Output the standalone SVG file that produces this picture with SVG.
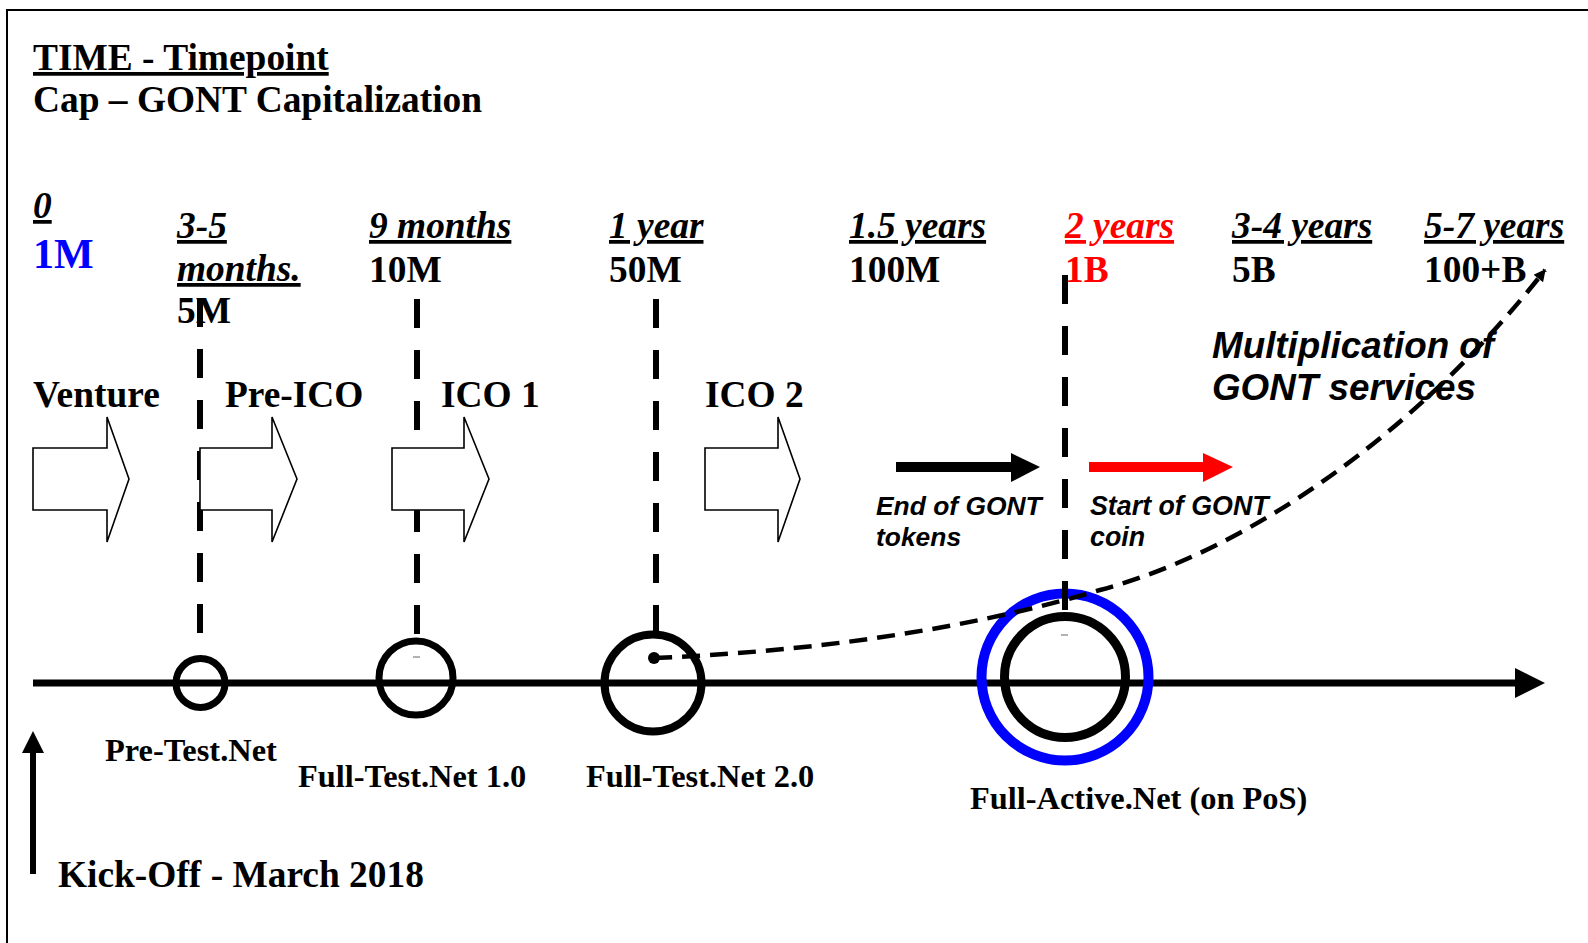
<svg xmlns="http://www.w3.org/2000/svg" width="1588" height="943" viewBox="0 0 1588 943">
<style>
.t{font-family:"Liberation Serif","Times New Roman",serif;font-weight:bold;font-size:37.4px;fill:#000}
.i{font-style:italic}
.u{text-decoration:underline;text-decoration-thickness:3px}
.lbl{font-size:32.4px}
.red{fill:#ff0000}
.s{font-family:"Liberation Sans",Arial,sans-serif;font-weight:bold;font-style:italic;fill:#000}
.blk{fill:#fff;stroke:#000;stroke-width:1.6}
.dash{stroke:#000;stroke-width:6;stroke-dasharray:29 22;fill:none}
.ring{fill:none;stroke:#000}
.mark{stroke:#999;stroke-width:1.5}
</style>
<defs>
<marker id="ah" viewBox="0 0 10 10" refX="9" refY="5" markerWidth="14" markerHeight="12" markerUnits="userSpaceOnUse" orient="auto">
<path d="M0,0 L10,5 L0,10 z" fill="#000"/>
</marker>
</defs>
<rect x="0" y="0" width="1588" height="943" fill="#fff"/>
<path d="M7,943 V10 H1588" fill="none" stroke="#000" stroke-width="2"/>

<g id="header">
<text x="33" y="70" class="t u">TIME - Timepoint</text>
<text x="33" y="112" class="t">Cap – GONT Capitalization</text>
</g>

<g id="timeline">
<line x1="33" y1="683" x2="1516" y2="683" stroke="#000" stroke-width="7"/>
<polygon points="1515,668 1545,683 1515,698" fill="#000"/>
</g>

<g id="kickoff">
<line x1="33" y1="874" x2="33" y2="750" stroke="#000" stroke-width="6"/>
<polygon points="22,753 33,731 44,753" fill="#000"/>
<text x="58" y="887" class="t">Kick-Off - March 2018</text>
</g>

<g id="tp0">
<text x="33" y="218" class="t i u">0</text>
<text x="33" y="268" class="t" style="font-size:42px;fill:#0000ff">1M</text>
</g>

<g id="circles">
<g id="pretestnet"><circle cx="200.5" cy="683" r="24.5" class="ring" stroke-width="7"/></g>
<g id="fulltest1"><circle cx="416" cy="678" r="37" class="ring" stroke-width="7"/><line x1="413" y1="657" x2="420" y2="657" class="mark"/></g>
<g id="fulltest2"><circle cx="653" cy="683" r="48.5" class="ring" stroke-width="8"/><circle cx="654" cy="658" r="6" fill="#000"/></g>
<g id="fullactive"><circle cx="1065" cy="677" r="83.5" fill="none" stroke="#0000ff" stroke-width="10"/><circle cx="1065" cy="677" r="60.5" class="ring" stroke-width="9"/><line x1="1061" y1="635" x2="1068" y2="635" class="mark"/></g>
</g>

<g id="connectors">
<line x1="200" y1="298" x2="200" y2="655" class="dash"/>
<line x1="417" y1="299" x2="417" y2="638" class="dash"/>
<line x1="656" y1="299" x2="656" y2="631" class="dash"/>
<line x1="1065" y1="275" x2="1065" y2="612" class="dash"/>
</g>

<g id="phases">
<g id="venture"><polygon points="33,448 107,448 107,417 129,479 107,542 107,510 33,510" class="blk"/><text x="33" y="407" class="t">Venture</text></g>
<g id="preico"><polygon points="200,448 272,448 272,417 297,479 272,542 272,510 200,510" class="blk"/><text x="225" y="407" class="t">Pre-ICO</text></g>
<g id="ico1"><polygon points="392,448 464,448 464,417 489,479 464,542 464,510 392,510" class="blk"/><text x="441" y="407" class="t">ICO 1</text></g>
<g id="ico2"><polygon points="705,448 778,448 778,417 800,479 778,542 778,510 705,510" class="blk"/><text x="705" y="407" class="t">ICO 2</text></g>
</g>

<g id="curve">
<path d="M654,658 C850,650 1000,620 1100,590 C1250,550 1420,430 1545,270" fill="none" stroke="#000" stroke-width="4.5" stroke-dasharray="18 10" marker-end="url(#ah)"/>
</g>

<g id="tokens">
<line x1="896" y1="467" x2="1012" y2="467" stroke="#000" stroke-width="10"/>
<polygon points="1011,453 1040,467 1011,482" fill="#000"/>
<text x="876" y="515" class="s" font-size="26.4">End of GONT</text>
<text x="876" y="546" class="s" font-size="26.4">tokens</text>
</g>
<g id="coin">
<line x1="1089" y1="467" x2="1204" y2="467" stroke="#ff0000" stroke-width="10"/>
<polygon points="1203,453 1233,467 1203,482" fill="#ff0000"/>
<text x="1090" y="515" class="s" font-size="26.8">Start of GONT</text>
<text x="1090" y="546" class="s" font-size="26.8">coin</text>
</g>
<g id="multiplication">
<text x="1212" y="358" class="s" font-size="36.8">Multiplication of</text>
<text x="1212" y="400" class="s" font-size="36.8">GONT services</text>
</g>

<g id="tp35">
<text x="177" y="238" class="t i u">3-5</text>
<text x="177" y="281" class="t i u">months.</text>
<text x="177" y="323" class="t">5M</text>
</g>
<g id="tp9"><text x="369" y="238" class="t i u">9 months</text><text x="369" y="282" class="t">10M</text></g>
<g id="tp1y"><text x="609" y="238" class="t i u">1 year</text><text x="609" y="282" class="t">50M</text></g>
<g id="tp15"><text x="849" y="238" class="t i u">1.5 years</text><text x="849" y="282" class="t">100M</text></g>
<g id="tp2"><text x="1065" y="238" class="t i u red">2 years</text><text x="1065" y="282" class="t red">1B</text></g>
<g id="tp34"><text x="1232" y="238" class="t i u">3-4 years</text><text x="1232" y="282" class="t">5B</text></g>
<g id="tp57"><text x="1424" y="238" class="t i u">5-7 years</text><text x="1424" y="282" class="t">100+B</text></g>

<g id="labels">
<text x="105" y="761" class="t lbl">Pre-Test.Net</text>
<text x="298" y="787" class="t lbl">Full-Test.Net 1.0</text>
<text x="586" y="787" class="t lbl">Full-Test.Net 2.0</text>
<text x="970" y="809" class="t lbl">Full-Active.Net (on PoS)</text>
</g>
</svg>
